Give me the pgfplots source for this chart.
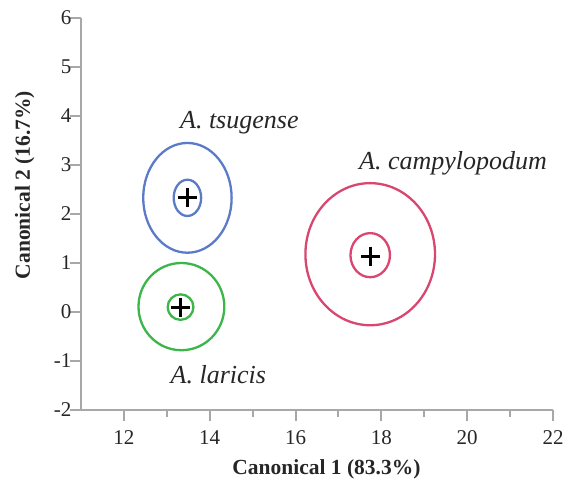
\documentclass[border=0pt]{standalone}
\usepackage{pgfplots}
\pgfplotsset{compat=1.18}
\usepackage{fontspec}
\setmainfont{Liberation Serif}
\definecolor{axgray}{HTML}{A8A8A8}
\definecolor{cblue}{HTML}{5B7BC8}
\definecolor{cgreen}{HTML}{3CB54A}
\definecolor{cred}{HTML}{D9466F}
\begin{document}
\begin{tikzpicture}
\path[use as bounding box] (-81pt,-69pt) rectangle (488pt,410pt);
\begin{axis}[
  width=472pt, height=392pt, scale only axis,
  xmin=11, xmax=22, ymin=-2, ymax=6,
  axis x line*=bottom, axis y line*=left,
  axis line style={axgray, line width=2.2pt},
  xtick={12,14,...,22}, minor xtick={13,15,...,21},
  ytick={-2,-1,...,6},
  tick align=outside,
  major tick length=11pt, minor tick length=7pt,
  every tick/.style={axgray, line width=2pt},
  tick label style={font=\fontsize{21}{24}\selectfont, text=black!85},
  x tick label style={yshift=-6pt},
  y tick label style={xshift=5pt},
  /pgf/number format/assume math mode=true,
  xlabel={\textbf{Canonical 1 (83.3\%)}},
  ylabel={\textbf{Canonical 2 (16.7\%)}},
  label style={font=\fontsize{21.5}{24}\selectfont, text=black!85},
  xlabel style={at={(rel axis cs:0.52,0)}, anchor=north, yshift=-46pt},
  ylabel style={at={(rel axis cs:0,0.574)}, anchor=south, yshift=43pt},
  clip=false,
]
% ellipses: centre x, centre y, x radius, y radius
\draw[cblue, line width=2.3pt] (axis cs:13.48,2.33) ellipse [x radius=1.03, y radius=1.12];
\draw[cblue, line width=2.3pt] (axis cs:13.48,2.33) ellipse [x radius=0.32, y radius=0.37];
\draw[cgreen, line width=2.3pt] (axis cs:13.34,0.11) ellipse [x radius=1.00, y radius=0.89];
\draw[cgreen, line width=2.3pt] (axis cs:13.32,0.10) ellipse [x radius=0.30, y radius=0.26];
\draw[cred, line width=2.3pt] (axis cs:17.74,1.18) ellipse [x radius=1.51, y radius=1.45];
\draw[cred, line width=2.3pt] (axis cs:17.74,1.16) ellipse [x radius=0.46, y radius=0.45];
\addplot[only marks, mark=+, mark size=9.5pt, line width=3pt, black]
  coordinates {(13.48,2.33) (13.31,0.10) (17.75,1.14)};
\node[font=\fontsize{26}{30}\selectfont\itshape, text=black!85] at (axis cs:14.69,3.86) {A. tsugense};
\node[font=\fontsize{26}{30}\selectfont\itshape, text=black!85] at (axis cs:19.67,3.04) {A. campylopodum};
\node[font=\fontsize{26}{30}\selectfont\itshape, text=black!85] at (axis cs:14.2,-1.27) {A. laricis};
\end{axis}
\end{tikzpicture}
\end{document}
